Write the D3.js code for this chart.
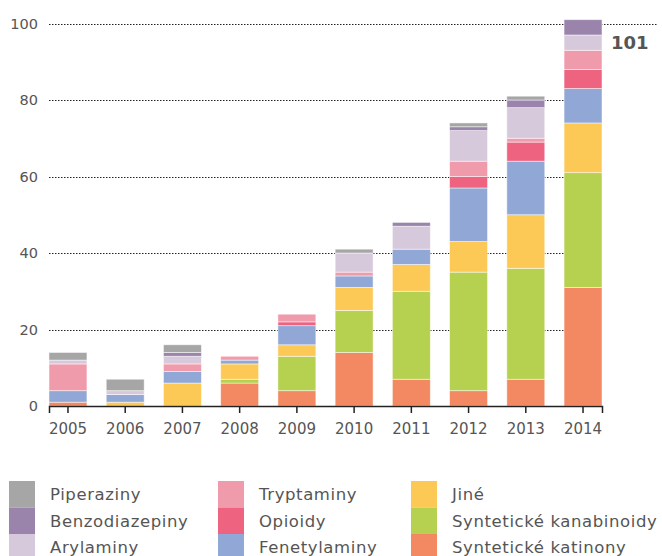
<!DOCTYPE html>
<html>
<head>
<meta charset="utf-8">
<script src="https://cdn.jsdelivr.net/npm/d3@7"></script>
<style>
  html, body { margin: 0; padding: 0; background: #fff; }
  svg { display: block; }
  text { font-family: "DejaVu Sans", "Open Sans", sans-serif; }
</style>
</head>
<body>
<svg id="chart" width="662" height="556"></svg>
<script>
// ---- data ----
const years = ["2005","2006","2007","2008","2009","2010","2011","2012","2013","2014"];
const seriesNames = ["Syntetické katinony","Syntetické kanabinoidy","Jiné","Fenetylaminy","Opioidy","Tryptaminy","Arylaminy","Benzodiazepiny","Piperaziny"];
const katinony       = [1, 0, 0, 6, 4, 14, 7, 4, 7, 31];
const kanabinoidy    = [0, 0, 0, 1, 9, 11, 23, 31, 29, 30];
const jine           = [0, 1, 6, 4, 3, 6, 7, 8, 14, 13];
const fenetylaminy   = [3, 2, 3, 1, 5, 3, 4, 14, 14, 9];
const opioidy        = [0, 0, 0, 0, 1, 0, 0, 3, 5, 5];
const tryptaminy     = [7, 0, 2, 1, 2, 1, 0, 4, 1, 5];
const arylaminy      = [1, 1, 2, 0, 0, 5, 6, 8, 8, 4];
const benzodiazepiny = [0, 0, 1, 0, 0, 0, 1, 1, 2, 4];
const piperaziny     = [2, 3, 2, 0, 0, 1, 0, 1, 1, 0];
const yTicks = [0, 20, 40, 60, 80, 100];
const totalLabel = "101";

const seriesValues = [katinony, kanabinoidy, jine, fenetylaminy, opioidy, tryptaminy, arylaminy, benzodiazepiny, piperaziny];
const colors = ["#f28963","#b6d14f","#fdc956","#91a8d6","#ee6380","#f09bab","#d7c9dc","#9a84ac","#a6a6a6"];

// build table
const table = years.map((y, i) => {
  const row = { year: y };
  seriesNames.forEach((s, j) => row[s] = seriesValues[j][i]);
  return row;
});

const svg = d3.select("#chart");
const x = d3.scaleBand().domain(years).range([49, 602]).paddingInner(0.337).paddingOuter(0);
const y = d3.scaleLinear().domain([0, 100]).range([406, 23.5]);

// gridlines
const grid = svg.append("g");
yTicks.filter(t => t > 0).forEach(t => {
  grid.append("line")
    .attr("x1", 49).attr("x2", t === 100 ? 658 : 602)
    .attr("y1", Math.round(y(t)) + 0.5).attr("y2", Math.round(y(t)) + 0.5)
    .attr("stroke", "#222").attr("stroke-width", 1)
    .attr("stroke-dasharray", "1.5,1.5");
});

// y labels
svg.append("g").selectAll("text").data(yTicks).join("text")
  .attr("x", 38).attr("y", d => y(d)).attr("dy", "0.35em")
  .attr("text-anchor", "end").attr("font-size", 14.5).attr("fill", "#555")
  .text(d => d);

// stacks
const stack = d3.stack().keys(seriesNames)(table);
svg.append("g").selectAll("g").data(stack).join("g")
  .attr("fill", (d, i) => colors[i])
  .selectAll("rect").data(d => d).join("rect")
  .attr("x", d => x(d.data.year))
  .attr("width", x.bandwidth())
  .attr("y", d => y(d[1]))
  .attr("height", d => y(d[0]) - y(d[1]))
  .attr("stroke", "rgba(255,255,255,0.6)").attr("stroke-width", 0.8);

// x axis
const xAxis = svg.append("g").attr("transform", "translate(0,406)")
  .call(d3.axisBottom(x).tickSizeOuter(0).tickSize(7).tickPadding(10));
xAxis.select(".domain").attr("stroke", "#222").attr("stroke-width", 1.5);
xAxis.selectAll(".tick line").attr("stroke", "#222").attr("stroke-width", 1.5);
xAxis.selectAll(".tick text").attr("font-size", 15).attr("fill", "#555")
  .attr("font-family", "'DejaVu Sans', 'Open Sans', sans-serif");

// total label
const lastYear = years[years.length - 1];
svg.append("text")
  .attr("x", x(lastYear) + x.bandwidth() + 9)
  .attr("y", y(100) + 25)
  .attr("font-size", 18).attr("font-weight", "bold").attr("fill", "#555")
  .text(totalLabel);

// legend
const legendOrder = [
  ["Piperaziny","Benzodiazepiny","Arylaminy"],
  ["Tryptaminy","Opioidy","Fenetylaminy"],
  ["Jiné","Syntetické kanabinoidy","Syntetické katinony"]
];
const colX = [9, 218, 411];
const legend = svg.append("g");
legendOrder.forEach((col, ci) => {
  col.forEach((name, ri) => {
    const idx = seriesNames.indexOf(name);
    const top = 481 + ri * 26.5;
    legend.append("rect")
      .attr("x", colX[ci]).attr("y", top)
      .attr("width", 26).attr("height", 26.5)
      .attr("fill", colors[idx]);
    legend.append("text")
      .attr("x", colX[ci] + 41).attr("y", top + 13.5).attr("dy", "0.35em")
      .attr("font-size", 16.5).attr("letter-spacing", 0.6).attr("fill", "#555")
      .text(name);
  });
});
</script>
</body>
</html>
